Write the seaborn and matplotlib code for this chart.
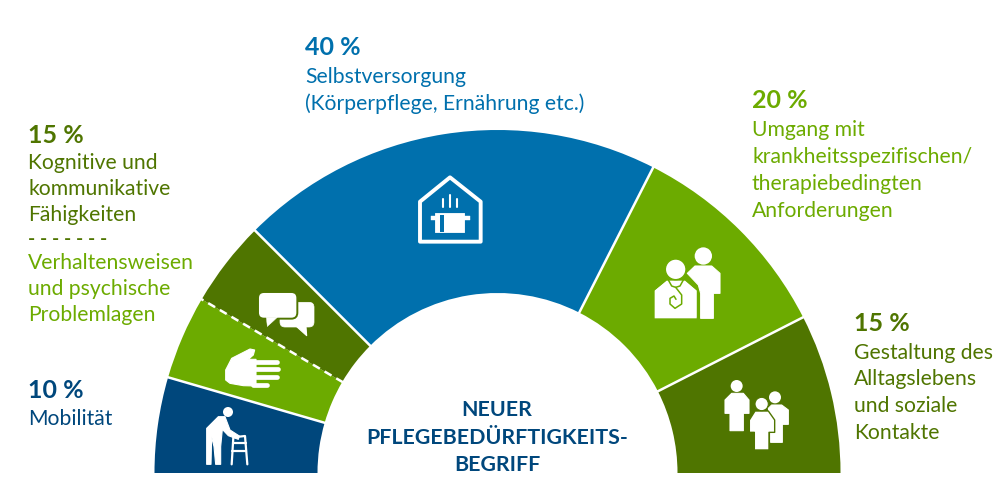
import numpy as np
import seaborn as sns
import matplotlib
matplotlib.use('Agg')
import matplotlib.pyplot as plt
from matplotlib.patches import Polygon, Circle, FancyBboxPatch

# shares as drawn in the arc, left to right (the 15 % on the left is split in two)
segments = ['Mobilität', 'Verhaltensweisen', 'Kognitive', 'Selbstversorgung', 'Umgang', 'Alltagsleben']
shares = [9.0, 7.9, 8.1, 40.0, 20.0, 15.0]

navy = '#00477c'
blue = '#0070ad'
light = '#6cab00'
dark = '#4f7500'
seg_colors = [navy, light, dark, blue, light, dark]

center_lines = ['NEUER', 'PFLEGEBEDÜRFTIGKEITS-', 'BEGRIFF']

# x, baseline y, text, colour, bold
labels = [
    (305, 55, '40 %', blue, True),
    (305, 83, 'Selbstversorgung', blue, False),
    (305, 110, '(Körperpflege, Ernährung etc.)', blue, False),
    (752, 108, '20 %', light, True),
    (752, 136, 'Umgang mit', light, False),
    (752, 163, 'krankheitsspezifischen/', light, False),
    (752, 190, 'therapiebedingten', light, False),
    (752, 217, 'Anforderungen', light, False),
    (854, 331, '15 %', dark, True),
    (854, 359, 'Gestaltung des', dark, False),
    (854, 385, 'Alltagslebens', dark, False),
    (854, 412, 'und soziale', dark, False),
    (854, 439, 'Kontakte', dark, False),
    (28, 143, '15 %', dark, True),
    (28, 169, 'Kognitive und', dark, False),
    (28, 195, 'kommunikative', dark, False),
    (28, 221, 'Fähigkeiten', dark, False),
    (28, 269, 'Verhaltensweisen', light, False),
    (28, 295, 'und psychische', light, False),
    (28, 321, 'Problemlagen', light, False),
    (28, 398, '10 %', navy, True),
    (28, 425, 'Mobilität', navy, False),
]

sns.set_theme(style='white')
plt.rcParams['font.family'] = ['Lato', 'DejaVu Sans']

CX, CY = 497.5, 473
R_OUT, R_IN = 343, 180

fig = plt.figure(figsize=(9.95, 4.88), dpi=100)
ax = fig.add_axes([0, 0, 1, 1])

# hidden second half closes the circle, y axis is flipped so angles run over the top
wedges, _ = ax.pie(shares + [sum(shares)], colors=seg_colors + ['white'], startangle=180,
                   center=(CX, CY), radius=R_OUT,
                   wedgeprops=dict(width=R_OUT - R_IN, linewidth=0))
wedges[-1].set_visible(False)
ax.set_xlim(0, 995)
ax.set_ylim(488, 0)

# separators
edges = np.cumsum(shares)[:-1] / sum(shares) * np.pi
for i, a in enumerate(edges):
    x = CX - np.cos(a) * np.array([R_IN - 1, R_OUT + 1])
    y = CY - np.sin(a) * np.array([R_IN - 1, R_OUT + 1])
    if i == 1:
        ax.plot(x, y, color='white', lw=1.8, dashes=(3.2, 2.2), solid_capstyle='butt')
    else:
        ax.plot(x, y, color='white', lw=1.8, solid_capstyle='butt')


def to_px(pts, ox, oy):
    return [(ox + p[0] / 3, oy + p[1] / 3) for p in pts]


def poly(pts, ox, oy, fc='white', ec='white', lw=0.8, z=3):
    ax.add_patch(Polygon(to_px(pts, ox, oy), closed=True, fc=fc, ec=ec, lw=lw, joinstyle='round', zorder=z))


def head(x, y, r, ox, oy, ec='white', lw=0, z=3):
    ax.add_patch(Circle((ox + x / 3, oy + y / 3), r / 3, fc='white', ec=ec, lw=lw, zorder=z))


def stroke(pts, ox, oy, color='white', lw=1.5, z=3):
    p = np.array(to_px(pts, ox, oy))
    ax.plot(p[:, 0], p[:, 1], color=color, lw=lw, solid_capstyle='round', solid_joinstyle='round', zorder=z)


# walker
ox, oy = 150, 220
head(234, 576, 15, ox, oy)
poly([(170, 625), (205, 590), (225, 590), (240, 630), (268, 648), (265, 658), (235, 647), (217, 628),
      (212, 680), (212, 733), (197, 733), (192, 680), (185, 650), (183, 733), (170, 733)], ox, oy)
stroke([(245, 733), (250, 652), (285, 648), (292, 733)], ox, oy, lw=1.6)
stroke([(248, 668), (287, 668)], ox, oy, lw=1.6)
stroke([(247, 692), (289, 692)], ox, oy, lw=1.6)

# hand
poly([(227, 450), (245, 415), (300, 387), (314, 390), (310, 405), (295, 418), (318, 418), (318, 498),
      (280, 497), (240, 490), (227, 480)], ox, oy)
for fy, fx in zip([425, 447, 471, 495], [380, 385, 380, 352]):
    stroke([(310, fy), (fx, fy)], ox, oy, lw=3.4)

# speech bubbles
ax.add_patch(FancyBboxPatch((ox + 390 / 3, oy + 247 / 3), 102 / 3, 74 / 3, boxstyle='round,pad=0,rounding_size=5',
                            fc='white', ec='white', lw=0.5, zorder=3))
poly([(440, 320), (470, 347), (468, 320)], ox, oy)
ax.add_patch(FancyBboxPatch((ox + 324 / 3, oy + 216 / 3), 118 / 3, 80 / 3, boxstyle='round,pad=0,rounding_size=6',
                            fc='white', ec=dark, lw=1.4, zorder=4))
poly([(349, 292), (352, 320), (382, 292)], ox, oy, lw=0.3, z=5)
stroke([(354, 322), (384, 298)], ox, oy, color=dark, lw=1.0, z=5)

# house with pot
ox, oy = 390, 170
poly([(90, 95), (180, 22), (272, 95), (272, 215), (90, 215)], ox, oy, fc='none', lw=2.8)
poly([(135, 128), (222, 128), (222, 185), (135, 185)], ox, oy, lw=0.6)
poly([(122, 139), (240, 139), (240, 149), (122, 149)], ox, oy, lw=0.3)
poly([(150, 135), (163, 135), (163, 185), (150, 185)], ox, oy, fc=blue, ec=blue, lw=0, z=4)
for sx, top in zip([160, 180, 200], [88, 76, 88]):
    stroke([(sx, top), (sx, 110)], ox, oy, lw=1.5)

# doctor and patient
ox, oy = 630, 230
head(220, 78, 26, ox, oy)
poly([(172, 130), (195, 108), (245, 108), (270, 130), (270, 190), (250, 190), (250, 265), (212, 265),
      (212, 190), (205, 165)], ox, oy)
poly([(72, 180), (110, 150), (165, 150), (202, 180), (202, 265), (72, 265)], ox, oy, ec=light, lw=1.4, z=4)
poly([(74, 182), (110, 152), (165, 152), (200, 182), (200, 265), (74, 265)], ox, oy, lw=0, z=4)
head(137, 118, 31, ox, oy, ec=light, lw=1.0, z=5)
stroke([(115, 150), (125, 168), (137, 172), (150, 168), (160, 150)], ox, oy, color=light, lw=1.1, z=5)
stroke([(137, 172), (155, 195), (155, 222), (135, 235), (120, 222), (120, 205), (132, 198), (138, 208)],
       ox, oy, color=light, lw=1.1, z=5)

# group of people
head(320, 468, 18, ox, oy)
poly([(285, 510), (305, 490), (340, 490), (357, 510), (357, 550), (340, 550), (340, 602), (300, 602),
      (300, 550), (285, 550)], ox, oy)
head(435, 502, 18, ox, oy)
poly([(415, 535), (425, 525), (455, 525), (475, 540), (475, 583), (457, 583), (457, 637), (422, 637),
      (422, 583)], ox, oy)
poly([(358, 570), (375, 543), (415, 543), (434, 570), (434, 607), (417, 607), (417, 660), (373, 660),
      (373, 607), (358, 607)], ox, oy, ec=dark, lw=1.0, z=4)
head(395, 522, 20, ox, oy, ec=dark, lw=0.8, z=4)

# texts
for x, y, txt, col, bold in labels:
    ax.text(x, y, txt, color=col, fontsize=18 if bold else 15.2, fontweight='bold' if bold else 'normal',
            ha='left', va='baseline')
ax.text(28, 245, '- - - - - - -', color=dark, fontsize=14, fontweight='bold', ha='left', va='baseline')
for y, txt in zip([416, 444, 471], center_lines):
    ax.text(497, y, txt, color=navy, fontsize=15.4, fontweight='bold', ha='center', va='baseline')

fig.savefig('out.png', dpi=100)
